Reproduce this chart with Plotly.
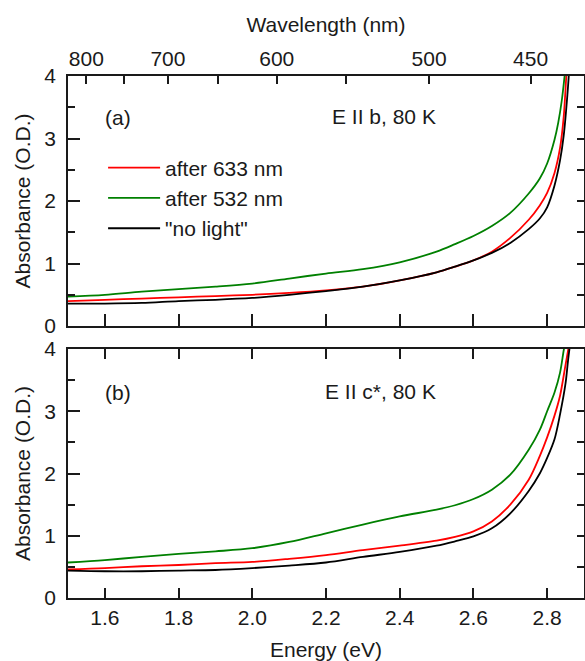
import plotly.graph_objects as go

# ---- data -------------------------------------------------------------
# Panel (a): E || b, 80 K
e_a_633 = [1.50, 1.60, 1.70, 1.80, 1.90, 2.00, 2.10, 2.20, 2.30, 2.40, 2.50, 2.55, 2.60,
           2.65, 2.70, 2.75, 2.78, 2.80, 2.82, 2.835, 2.845, 2.852, 2.858]
a_633 = [0.40, 0.42, 0.44, 0.46, 0.48, 0.50, 0.53, 0.57, 0.63, 0.73, 0.86, 0.95, 1.05,
         1.19, 1.41, 1.70, 1.93, 2.13, 2.45, 2.85, 3.35, 4.00, 4.50]

e_a_532 = [1.50, 1.60, 1.70, 1.80, 1.90, 2.00, 2.10, 2.20, 2.30, 2.40, 2.50, 2.55, 2.60,
           2.65, 2.70, 2.75, 2.78, 2.80, 2.82, 2.83, 2.84, 2.85]
a_532 = [0.47, 0.50, 0.55, 0.59, 0.63, 0.68, 0.76, 0.84, 0.91, 1.02, 1.19, 1.31, 1.44,
         1.60, 1.81, 2.12, 2.36, 2.60, 2.98, 3.25, 3.62, 4.15]

e_a_dark = [1.50, 1.60, 1.70, 1.80, 1.90, 2.00, 2.10, 2.20, 2.30, 2.40, 2.50, 2.55, 2.60,
            2.65, 2.70, 2.75, 2.78, 2.80, 2.82, 2.835, 2.845, 2.855, 2.862]
a_dark = [0.36, 0.36, 0.37, 0.40, 0.42, 0.45, 0.50, 0.56, 0.63, 0.73, 0.86, 0.95, 1.05,
          1.17, 1.33, 1.55, 1.72, 1.90, 2.25, 2.65, 3.05, 3.70, 4.30]

# Panel (b): E || c*, 80 K
e_b_633 = [1.50, 1.60, 1.70, 1.80, 1.90, 2.00, 2.10, 2.20, 2.30, 2.40, 2.50, 2.55, 2.60,
           2.65, 2.70, 2.75, 2.78, 2.80, 2.82, 2.835, 2.85, 2.862]
b_633 = [0.46, 0.48, 0.51, 0.53, 0.56, 0.58, 0.63, 0.69, 0.77, 0.84, 0.92, 0.98, 1.07,
         1.23, 1.50, 1.90, 2.28, 2.58, 2.93, 3.25, 3.75, 4.15]

e_b_532 = [1.50, 1.60, 1.70, 1.80, 1.90, 2.00, 2.10, 2.20, 2.30, 2.40, 2.50, 2.55, 2.60,
           2.65, 2.70, 2.75, 2.78, 2.80, 2.82, 2.835, 2.845, 2.852]
b_532 = [0.57, 0.61, 0.66, 0.71, 0.75, 0.80, 0.90, 1.04, 1.18, 1.31, 1.42, 1.49, 1.59,
         1.74, 1.98, 2.38, 2.70, 3.00, 3.30, 3.62, 3.98, 4.20]

e_b_dark = [1.50, 1.60, 1.70, 1.80, 1.90, 2.00, 2.10, 2.20, 2.30, 2.40, 2.50, 2.55, 2.60,
            2.65, 2.70, 2.75, 2.78, 2.80, 2.82, 2.835, 2.85, 2.857, 2.867]
b_dark = [0.44, 0.43, 0.43, 0.44, 0.45, 0.48, 0.52, 0.57, 0.66, 0.74, 0.84, 0.91, 0.99,
          1.12, 1.36, 1.72, 2.00, 2.25, 2.55, 2.95, 3.45, 3.83, 4.30]

energy_ticks = [1.6, 1.8, 2.0, 2.2, 2.4, 2.6, 2.8]
wavelength_ticks = [800, 750, 700, 650, 600, 550, 500, 450]
wavelength_labels = ["800", "", "700", "", "600", "", "500", "450"]

series_names = ["after 633 nm", "after 532 nm", "\"no light\""]
series_colors = ["#ff0000", "#008000", "#000000"]

HC = 1239.84  # eV*nm
E_RANGE = [1.5, 2.9]
FONT = "Liberation Sans, Arial, sans-serif"
INK = "#1a1a1a"

fig = go.Figure()

panel_a = [(e_a_633, a_633), (e_a_532, a_532), (e_a_dark, a_dark)]
panel_b = [(e_b_633, b_633), (e_b_532, b_532), (e_b_dark, b_dark)]

for (ex, ay), name, col in zip(panel_a, series_names, series_colors):
    fig.add_trace(go.Scatter(x=ex, y=ay, mode="lines", name=name,
                             line=dict(color=col, width=1.8, shape="spline", smoothing=0.9),
                             xaxis="x", yaxis="y", showlegend=True))
for (ex, ay), name, col in zip(panel_b, series_names, series_colors):
    fig.add_trace(go.Scatter(x=ex, y=ay, mode="lines", name=name,
                             line=dict(color=col, width=1.8, shape="spline", smoothing=0.9),
                             xaxis="x2", yaxis="y2", showlegend=False))

# empty traces that switch on the secondary axes (wavelength scale, right frames)
for xa, ya in [("x3", "y"), ("x", "y3"), ("x2", "y4")]:
    fig.add_trace(go.Scatter(x=[], y=[], xaxis=xa, yaxis=ya, showlegend=False,
                             hoverinfo="skip"))

axis_common = dict(showgrid=False, zeroline=False, showline=True, linewidth=1.5,
                   linecolor=INK, tickcolor=INK, tickwidth=1.5, ticks="inside",
                   tickfont=dict(size=21, color=INK, family=FONT))

energy_axis = dict(axis_common, range=E_RANGE, tickvals=energy_ticks, tickformat=".1f")

TOP_DOM = [0.521, 1.0]
BOT_DOM = [0.0, 0.477]

y_minor = dict(dtick=0.5, ticklen=7, ticks="inside", tickcolor=INK, tickwidth=1.5)

fig.update_layout(
    width=585, height=661,
    margin=dict(l=68, r=1, t=76, b=63),
    paper_bgcolor="white", plot_bgcolor="white",
    font=dict(family=FONT, size=21, color=INK),
    xaxis=dict(energy_axis, anchor="y", domain=[0, 1], ticklen=12,
               showticklabels=False),
    xaxis2=dict(energy_axis, anchor="y2", domain=[0, 1], ticklen=10, mirror="ticks",
                title=dict(text="Energy (eV)", font=dict(size=21), standoff=15)),
    xaxis3=dict(axis_common, overlaying="x", anchor="y", side="top", range=E_RANGE,
                tickvals=[HC / w for w in wavelength_ticks], ticktext=wavelength_labels,
                ticklen=8, title=dict(text="Wavelength (nm)", font=dict(size=21), standoff=8)),
    yaxis=dict(axis_common, domain=TOP_DOM, anchor="x", range=[0, 4], dtick=1, ticklen=12,
               minor=y_minor, ticklabelstandoff=6,
               title=dict(text="Absorbance (O.D.)", font=dict(size=21), standoff=8)),
    yaxis2=dict(axis_common, domain=BOT_DOM, anchor="x2", range=[0, 4], dtick=1, ticklen=12,
                minor=y_minor, ticklabelstandoff=6,
                title=dict(text="Absorbance (O.D.)", font=dict(size=21), standoff=8)),
    yaxis3=dict(axis_common, overlaying="y", anchor="x", side="right", range=[0, 4],
                dtick=0.5, ticklen=7, showticklabels=False),
    yaxis4=dict(axis_common, overlaying="y2", anchor="x2", side="right", range=[0, 4],
                dtick=0.5, ticklen=7, showticklabels=False),
    legend=dict(x=0.068, y=0.863, xanchor="left", yanchor="top",
                bgcolor="rgba(0,0,0,0)", font=dict(size=21, color=INK),
                itemwidth=52, tracegroupgap=0),
    showlegend=True,
)

notes = [
    ("(a)", 1.595, 3.33, "x", "y"),
    ("E II b, 80 K", 2.211, 3.35, "x", "y"),
    ("(b)", 1.595, 3.30, "x2", "y2"),
    ("E II c*, 80 K", 2.192, 3.31, "x2", "y2"),
]
for txt, xv, yv, xr, yr in notes:
    fig.add_annotation(text=txt, x=xv, y=yv, xref=xr, yref=yr, showarrow=False,
                       xanchor="left", yanchor="middle",
                       font=dict(size=21, color=INK, family=FONT))

fig.write_html("out.html")
